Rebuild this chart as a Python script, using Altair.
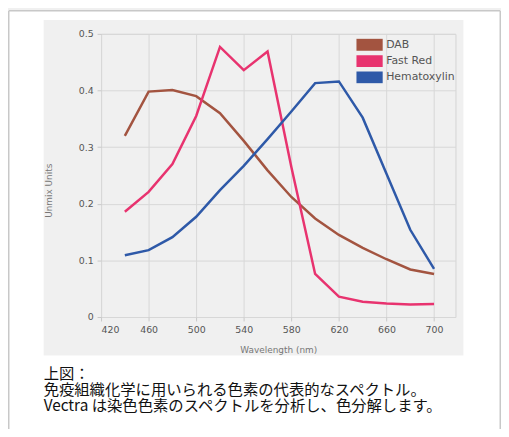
import altair as alt
import pandas as pd

# ---- data ----
wavelength = [440, 460, 480, 500, 520, 540, 560, 580, 600, 620, 640, 660, 680, 700]
dab = [0.320, 0.398, 0.401, 0.390, 0.360, 0.311, 0.259, 0.212, 0.174, 0.145, 0.122, 0.102, 0.084, 0.076]
fast_red = [0.186, 0.221, 0.270, 0.355, 0.477, 0.436, 0.469, 0.265, 0.076, 0.036, 0.027, 0.024, 0.022, 0.023]
hematoxylin = [0.109, 0.118, 0.141, 0.177, 0.224, 0.267, 0.314, 0.363, 0.413, 0.416, 0.352, 0.253, 0.154, 0.085]

series_names = ["DAB", "Fast Red", "Hematoxylin"]
series_colors = ["#a35440", "#e8336f", "#2e59a8"]
x_ticks = [420, 460, 500, 540, 580, 620, 660, 700]
y_ticks = [0, 0.1, 0.2, 0.3, 0.4, 0.5]
caption_lines = [
    "上図：",
    "免疫組織化学に用いられる色素の代表的なスペクトル。",
    "Vectra は染色色素のスペクトルを分析し、色分解します。",
]

rows = []
for name, vals in zip(series_names, [dab, fast_red, hematoxylin]):
    for w, v in zip(wavelength, vals):
        rows.append({"wavelength": w, "value": v, "series": name})
df = pd.DataFrame(rows)

one = alt.Data(values=[{}])

lines = alt.Chart(df).mark_line(strokeWidth=2.5).encode(
    x=alt.X("wavelength:Q",
            scale=alt.Scale(domain=[420, 718], nice=False, zero=False),
            axis=alt.Axis(values=x_ticks, title="Wavelength (nm)", titleY=29)),
    y=alt.Y("value:Q",
            scale=alt.Scale(domain=[0, 0.5], nice=False),
            axis=alt.Axis(values=y_ticks, title="Unmix Units",
                          labelExpr="datum.value == 0 ? '0' : format(datum.value, '.1f')",
                          titleX=-48, titleY=158)),
    color=alt.Color("series:N",
                    scale=alt.Scale(domain=series_names, range=series_colors),
                    legend=alt.Legend(title=None, orient="none", legendX=258, legendY=4.5,
                                      symbolType="M-2,0H2", symbolSize=182,
                                      symbolStrokeWidth=12, rowPadding=3.5, clipHeight=13,
                                      labelFont="DejaVu Sans", labelFontSize=11,
                                      labelColor="#555555", labelOffset=4, padding=0)),
)

def white_rect(x1, x2, y1, y2):
    return alt.Chart(one).mark_rect(color="white").encode(
        x=alt.value(x1), x2=alt.value(x2), y=alt.value(y1), y2=alt.value(y2))

whites = [
    white_rect(-94, 404, -24, -14),
    white_rect(-94, -58, -24, 400),
    white_rect(366, 404, -24, 400),
    white_rect(-94, 404, 325, 400),
]

frame = [
    alt.Chart(one).mark_rule(color="#c8c8c8", strokeWidth=1.5).encode(
        x=alt.value(-93.25), y=alt.value(-23.25), y2=alt.value(400)),
    alt.Chart(one).mark_rule(color="#c8c8c8", strokeWidth=1.5).encode(
        x=alt.value(-93.25), x2=alt.value(403.25), y=alt.value(-23.25)),
    alt.Chart(one).mark_rule(color="#c8c8c8", strokeWidth=1.5).encode(
        x=alt.value(403.25), y=alt.value(-23.25), y2=alt.value(400)),
]

caption = alt.Chart(one).mark_text(
    align="left", baseline="alphabetic", font="Noto Sans CJK JP",
    fontSize=15.5, lineHeight=16, color="#111111"
).encode(x=alt.value(-58), y=alt.value(349), text=alt.value(caption_lines))

chart = alt.layer(lines, *whites, *frame, caption).properties(
    width=358, height=286,
    autosize=alt.AutoSizeParams(type="none"),
    padding={"left": 94, "top": 24, "right": 46, "bottom": 111},
    background="#f0f0f0",
).configure_view(
    stroke="#d4d4d4", fill=None
).configure_axis(
    domain=False, gridColor="#d8d8d8", gridWidth=1, tickColor="#c8c8c8", tickSize=4,
    labelFont="DejaVu Sans", labelFontSize=9.5, labelColor="#555555", labelPadding=4,
    titleFont="DejaVu Sans", titleFontSize=9, titleColor="#777777", titleFontWeight="normal",
)

chart.save("out.html", embed_options={"renderer": "svg", "actions": False})
